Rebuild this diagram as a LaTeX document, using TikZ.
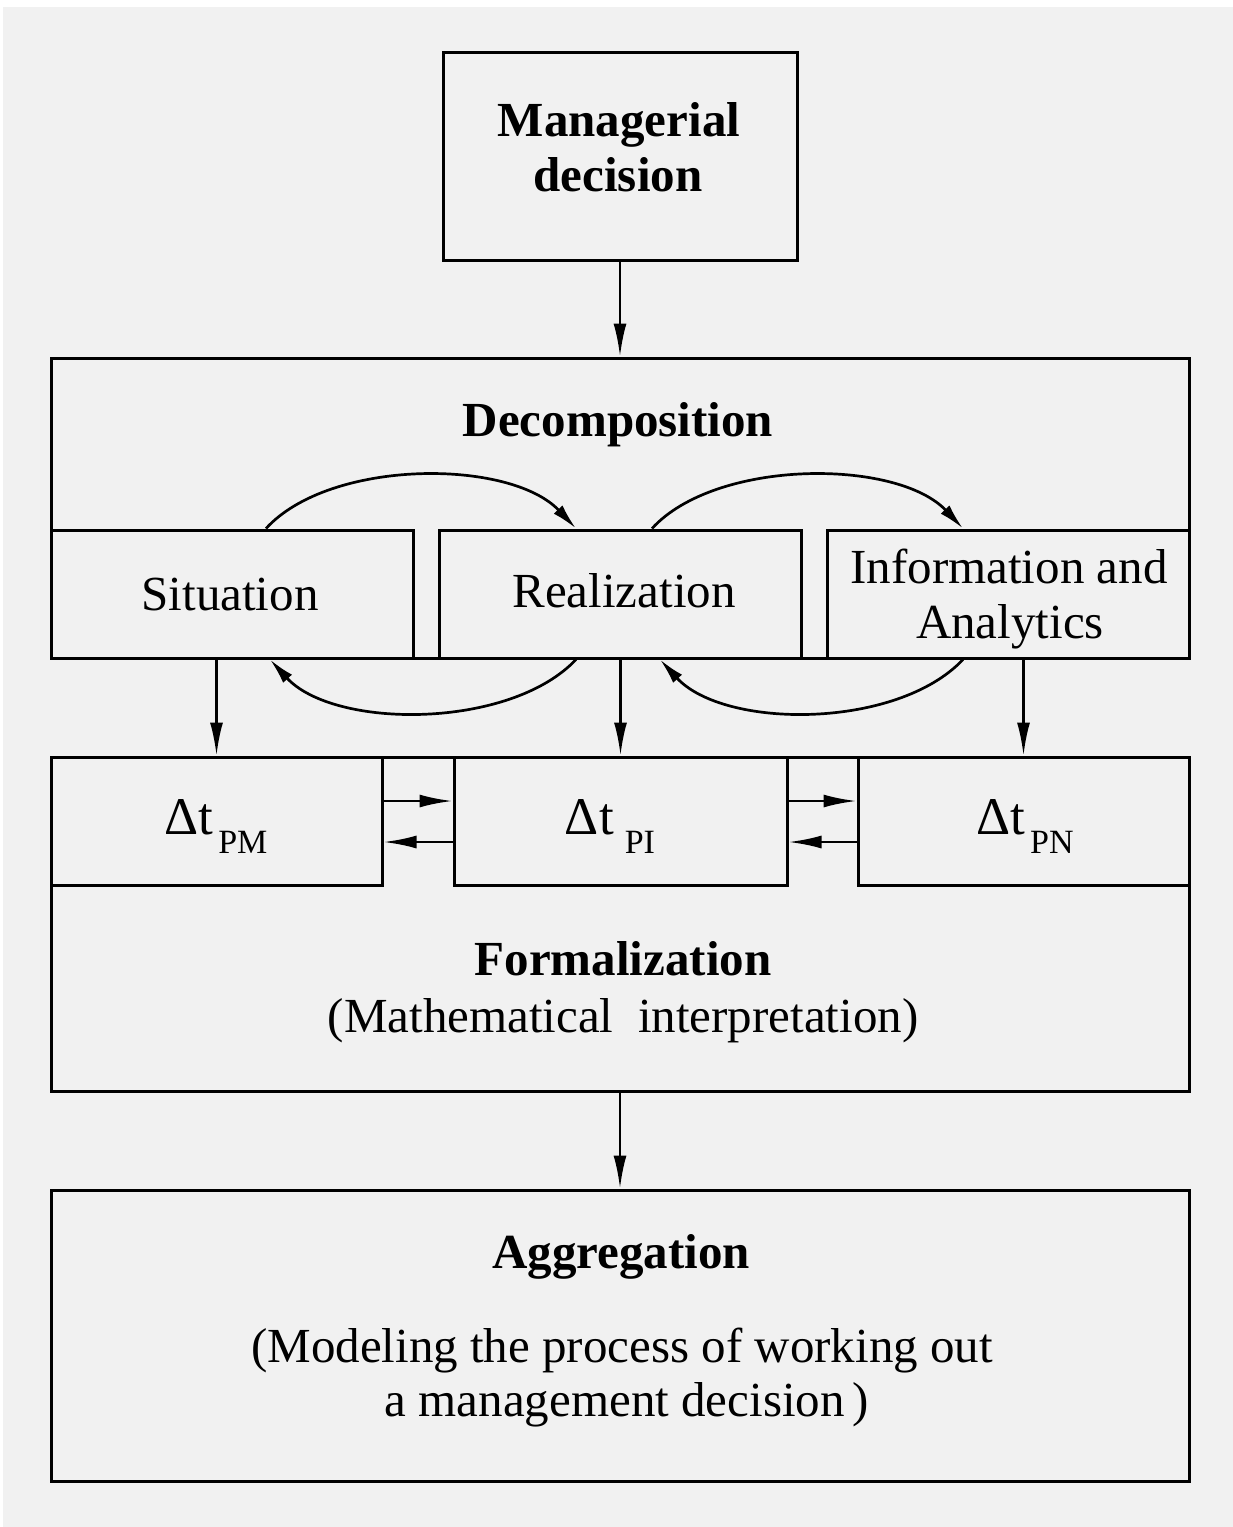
\documentclass[tikz,border=0pt]{standalone}
\usepackage{fontspec}
\setmainfont{Liberation Serif}
\usetikzlibrary{arrows.meta,calc}
\definecolor{paper}{HTML}{F1F1F1}
\tikzset{
  box/.style={draw=black, line width=3pt, rectangle, inner sep=0pt},
  arr/.style={line width=2.7pt, -{Latex[length=33pt,width=13pt]}},
  carr/.style={line width=2.7pt, -{Latex[length=26pt,width=12pt]}},
  txt/.style={anchor=base, inner sep=0pt, font=\fontsize{49}{56}\selectfont},
  hd/.style={anchor=base, inner sep=0pt, font=\fontsize{49}{56}\selectfont\bfseries},
}
\newcommand{\dlt}[2]{{\fontsize{53}{53}\selectfont Δt}\hspace{#2}\raisebox{-19pt}{\fontsize{34}{34}\selectfont #1}}
\begin{document}
\begin{tikzpicture}[x=1pt,y=-1pt]
% page
\fill[white] (0,0) rectangle (1233,1527);
\fill[paper] (3,7) rectangle (1233,1527);
\useasboundingbox (0,0) rectangle (1233,1527);

% boxes
\node[box, minimum width=354pt, minimum height=208pt] (md) at (620,156) {};
\node[box, minimum width=1138pt, minimum height=300pt] (dec) at (620,508) {};
\node[box, minimum width=362pt, minimum height=128pt] (sit) at (232,594) {};
\node[box, minimum width=362pt, minimum height=128pt] (real) at (620,594) {};
\node[box, minimum width=362pt, minimum height=128pt] (info) at (1008,594) {};
\node[box, minimum width=1138pt, minimum height=334pt] (form) at (620,924) {};
\node[box, minimum width=331pt, minimum height=128pt] (dpm) at (216.5,821) {};
\node[box, minimum width=333pt, minimum height=128pt] (dpi) at (620.5,821) {};
\node[box, minimum width=331pt, minimum height=128pt] (dpn) at (1023.5,821) {};
\node[box, minimum width=1138pt, minimum height=291pt] (agg) at (620,1335.5) {};

% texts
\node[hd] (t1) at (619,136) {Managerial};
\node[hd] (t2) at (618,191) {decision};
\node[hd] (t3) at (618,436) {Decomposition};
\node[txt] (t4) at (230,610) {Situation};
\node[txt] (t5) at (624,607) {Realization};
\node[txt] (t6) at (1009,583) {Information and};
\node[txt] (t7) at (1010,638) {Analytics};
\node[anchor=base, inner sep=0pt] (t8) at (216,834) {\dlt{PM}{5pt}};
\node[anchor=base, inner sep=0pt] (t9) at (610,834) {\dlt{PI}{11pt}};
\node[anchor=base, inner sep=0pt] (t10) at (1025,834) {\dlt{PN}{5pt}};
\node[hd] (t11) at (623,975) {Formalization};
\node[txt] (t12) at (623,1032) {(Mathematical\ \ interpretation)};
\node[hd] (t13) at (621,1268) {Aggregation};
\node[txt] (t14) at (622,1362) {(Modeling the process of working out};
\node[txt] (t15) at (627,1416) {a management decision\,)};

% vertical flow
\draw[arr] (md.south) -- (dec.north);
\draw[arr] (dpm.north |- sit.south) -- (dpm.north);
\draw[arr] (dpi.north |- real.south) -- (dpi.north);
\draw[arr] (dpn.north |- info.south) -- (dpn.north);
\draw[arr] (form.south) -- (agg.north);

% exchange between the time intervals
\draw[arr] ([yshift=20pt]dpm.east) -- ([yshift=20pt]dpm.east -| dpi.west);
\draw[arr] ([yshift=-21pt]dpi.west) -- ([yshift=-21pt]dpi.west -| dpm.east);
\draw[arr] ([yshift=20pt]dpi.east) -- ([yshift=20pt]dpi.east -| dpn.west);
\draw[arr] ([yshift=-21pt]dpn.west) -- ([yshift=-21pt]dpn.west -| dpi.east);

% loops between the decomposition blocks
\draw[carr] ([xshift=34pt]sit.north) .. controls +(64,-70) and +(-66,-70) .. ([xshift=-44pt]real.north);
\draw[carr] ([xshift=-44pt]real.south) .. controls +(-66,70) and +(64,70) .. ([xshift=38pt]sit.south);
\draw[carr] ([xshift=32pt]real.north) .. controls +(64,-70) and +(-66,-70) .. ([xshift=-45pt]info.north);
\draw[carr] ([xshift=-45pt]info.south) .. controls +(-66,70) and +(64,70) .. ([xshift=40pt]real.south);
\end{tikzpicture}
\end{document}
